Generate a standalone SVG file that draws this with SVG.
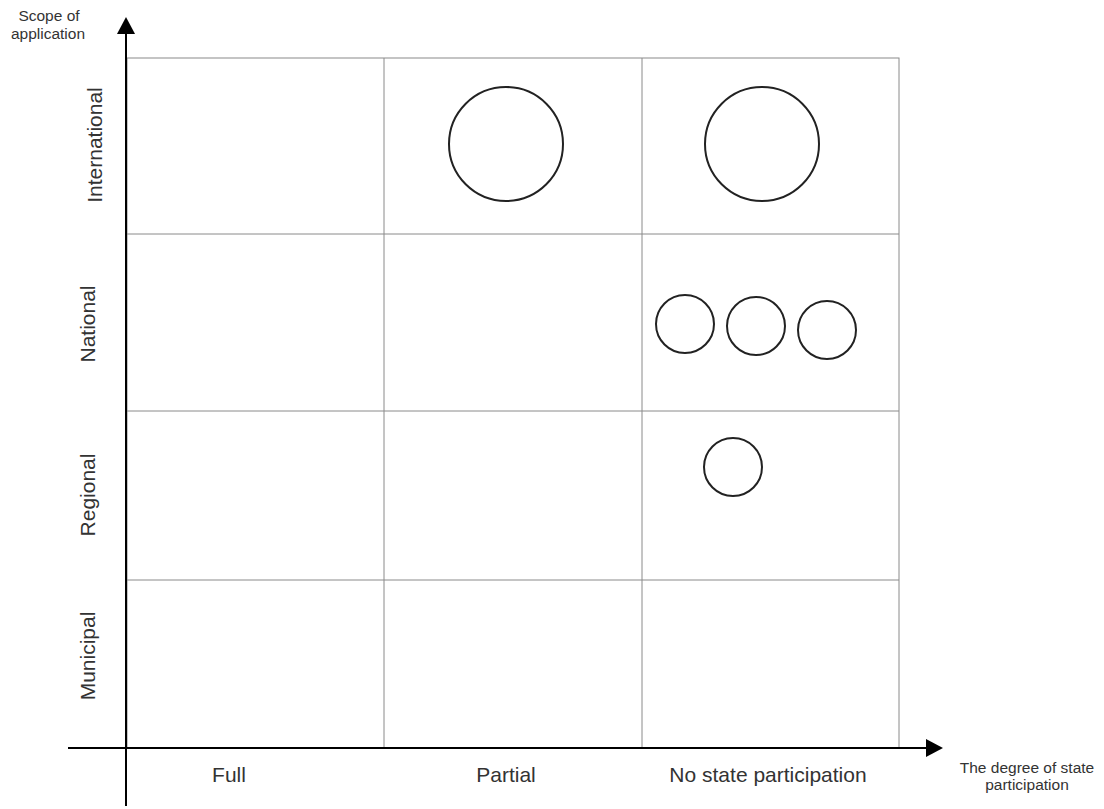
<svg xmlns="http://www.w3.org/2000/svg" width="1104" height="809" viewBox="0 0 1104 809">
<style>
.grid{stroke:#8a8a8a;stroke-width:1;fill:none}
.axis{stroke:#000;stroke-width:2;fill:none}
.c{fill:none;stroke:#222;stroke-width:2}
text{font-family:"Liberation Sans",Arial,sans-serif;fill:#333}
.lab{font-size:21px;text-anchor:middle}
.ax{font-size:15.5px;text-anchor:middle}
</style>
<rect width="1104" height="809" fill="#fff"/>
<g id="grid">
<rect class="grid" x="127" y="58" width="772" height="690"/>
<line class="grid" x1="384" y1="58" x2="384" y2="748"/>
<line class="grid" x1="642" y1="58" x2="642" y2="748"/>
<line class="grid" x1="127" y1="234" x2="899" y2="234"/>
<line class="grid" x1="127" y1="411" x2="899" y2="411"/>
<line class="grid" x1="127" y1="580" x2="899" y2="580"/>
</g>
<g id="connectors">
<line class="axis" x1="126" y1="806" x2="126" y2="34"/>
<path d="M117,34 L126,17 L135,34 z" fill="#000"/>
<line class="axis" x1="68" y1="748" x2="926" y2="748"/>
<path d="M926,739 L943,748 L926,757 z" fill="#000"/>
</g>
<g id="circle-intl-partial"><circle class="c" cx="506" cy="144" r="57"/></g>
<g id="circle-intl-none"><circle class="c" cx="762" cy="144" r="57"/></g>
<g id="circle-nat-1"><circle class="c" cx="685" cy="324" r="29"/></g>
<g id="circle-nat-2"><circle class="c" cx="756" cy="326" r="29"/></g>
<g id="circle-nat-3"><circle class="c" cx="827" cy="330" r="29"/></g>
<g id="circle-reg"><circle class="c" cx="733" cy="467" r="29"/></g>
<g id="row-labels">
<text class="lab" transform="translate(102,145) rotate(-90)">International</text>
<text class="lab" transform="translate(95,324) rotate(-90)">National</text>
<text class="lab" transform="translate(95,495) rotate(-90)">Regional</text>
<text class="lab" transform="translate(95,656) rotate(-90)">Municipal</text>
</g>
<g id="col-labels">
<text class="lab" x="229" y="782">Full</text>
<text class="lab" x="506" y="782">Partial</text>
<text class="lab" x="768" y="782">No state participation</text>
</g>
<g id="axis-labels">
<text class="ax" x="49" y="21">Scope of</text>
<text class="ax" x="48" y="39">application</text>
<text class="ax" x="1027" y="773">The degree of state</text>
<text class="ax" x="1027" y="790">participation</text>
</g>
</svg>
